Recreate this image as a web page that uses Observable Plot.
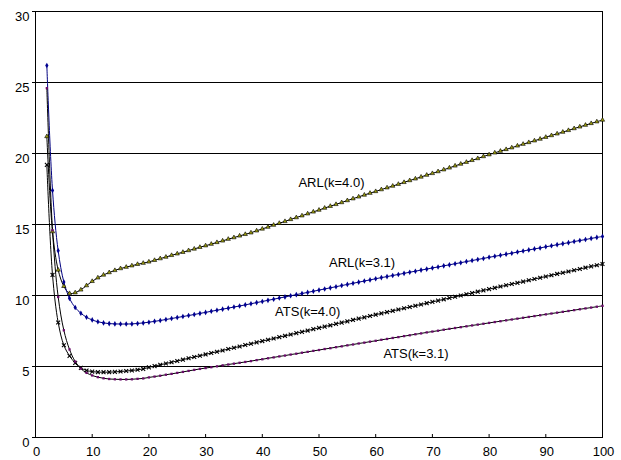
<!DOCTYPE html>
<html><head><meta charset="utf-8">
<script src="https://cdn.jsdelivr.net/npm/d3@7"></script>
<script src="https://cdn.jsdelivr.net/npm/@observablehq/plot@0.6"></script>
<style>body{margin:0;background:#fff;}#chart{width:621px;height:460px;}</style>
</head><body><div id="chart"></div>
<script>
// x values: 2..100
const xValues = d3.range(2, 101);

const arl40 = [21.2,14.5,11.8,10.65,10.15,10.2,10.4,10.7,11.0,11.25,11.45,11.62,11.77,11.9,12.0,12.1,12.2,12.28,12.37,
12.48,12.60,12.71,12.83,12.94,13.05,13.17,13.28,13.40,13.51,13.62,13.74,13.85,13.97,14.08,14.20,14.31,14.42,
14.56,14.69,14.82,14.96,15.09,15.22,15.36,15.49,15.62,15.76,15.89,16.02,16.16,16.29,16.42,16.55,16.69,16.82,16.95,17.08,17.21,
17.33,17.46,17.59,17.71,17.84,17.97,18.10,18.22,18.35,18.48,18.60,18.73,
18.86,18.99,19.13,19.26,19.39,19.52,19.65,19.79,19.92,20.05,
20.17,20.29,20.41,20.54,20.66,20.78,20.90,21.02,21.15,21.27,21.39,21.51,21.63,21.76,21.88,22.00,22.12,22.24,22.36];

const arl31 = [26.2,17.4,13.15,10.95,9.8,9.15,8.75,8.47,8.28,8.15,8.07,8.02,8.0,7.99,7.99,8.0,8.03,8.07,8.12,
8.18,8.24,8.31,8.38,8.45,8.52,8.59,8.66,8.74,8.81,8.89,8.96,9.04,9.11,9.19,9.26,9.34,9.42,9.50,9.58,9.66,9.74,9.82,9.90,9.98,
10.06,10.14,10.22,10.30,10.38,10.46,10.54,10.62,10.70,10.78,10.86,10.94,11.02,11.10,11.18,11.26,11.33,11.41,11.48,11.56,11.64,
11.71,11.79,11.86,11.94,12.01,12.09,12.16,12.24,12.31,12.39,12.46,12.54,12.61,12.69,12.76,12.83,12.91,12.98,13.06,13.13,13.21,
13.28,13.35,13.43,13.50,13.58,13.65,13.72,13.80,13.87,13.94,14.02,14.09,14.16];

const ats40 = [19.2,11.45,8.1,6.5,5.75,5.25,4.9,4.72,4.64,4.6,4.6,4.6,4.62,4.65,4.68,4.72,4.77,4.83,4.94,
5.03,5.12,5.21,5.30,5.39,5.48,5.58,5.67,5.76,5.85,5.95,6.04,6.13,6.23,6.32,6.41,6.51,6.60,6.70,6.79,6.88,6.97,7.07,7.16,7.25,
7.35,7.44,7.53,7.63,7.72,7.81,7.90,8.00,8.09,8.18,8.28,8.37,8.46,8.56,8.65,8.74,8.83,8.92,9.01,9.10,9.19,9.28,9.37,9.46,9.55,
9.64,9.73,9.82,9.91,10.00,10.09,10.18,10.27,10.36,10.45,10.54,10.63,10.72,10.81,10.89,10.98,11.07,11.16,11.25,11.34,11.43,
11.52,11.60,11.69,11.78,11.87,11.96,12.05,12.13,12.22];

const ats31 = [24.6,14.6,9.9,7.55,6.2,5.35,4.85,4.55,4.37,4.25,4.17,4.12,4.1,4.09,4.09,4.1,4.13,4.16,4.23,
4.29,4.35,4.42,4.48,4.55,4.62,4.69,4.76,4.83,4.89,4.95,5.01,5.08,5.14,5.20,5.26,5.32,5.38,5.45,5.51,5.58,5.64,5.71,5.77,5.84,
5.90,5.97,6.03,6.10,6.16,6.23,6.29,6.36,6.42,6.49,6.55,6.62,6.68,6.75,6.81,6.88,6.94,7.01,7.07,7.14,7.20,7.27,7.33,7.40,7.46,
7.52,7.59,7.65,7.71,7.77,7.83,7.89,7.95,8.01,8.07,8.13,8.19,8.25,8.31,8.37,8.43,8.49,8.55,8.61,8.67,8.73,8.79,8.85,8.91,8.97,
9.03,9.09,9.15,9.21,9.27];

const seriesNames = ["ARL(k=4.0)", "ARL(k=3.1)", "ATS(k=4.0)", "ATS(k=3.1)"];
const seriesValues = [arl40, arl31, ats40, ats31];

const xTicks = [0,10,20,30,40,50,60,70,80,90,100];
const yTicks = [0,5,10,15,20,25,30];
const gridTicks = [5,10,15,20,25];

// label anchors in data units
const labelNames = ["ARL(k=4.0)", "ARL(k=3.1)", "ATS(k=4.0)", "ATS(k=3.1)"];
const labelX = [52.2, 57.6, 48.0, 67.1];
const labelY = [17.94, 12.3, 8.87, 5.91];

const styles = {
  "ARL(k=4.0)": {line: "#000", symbol: "triangle", fill: "#9a9a10", stroke: "#000", r: 1.6, sw: 0.6},
  "ARL(k=3.1)": {line: "#000080", symbol: "diamond", fill: "#000090", stroke: "none", r: 1.7, sw: 0},
  "ATS(k=4.0)": {line: "#000", symbol: "times", fill: "none", stroke: "#000", r: 1.9, sw: 1.1},
  "ATS(k=3.1)": {line: "#000", symbol: "square", fill: "#6a0a6a", stroke: "none", r: 1.3, sw: 0}
};

const rows = [];
seriesNames.forEach((s, i) => {
  seriesValues[i].forEach((v, j) => rows.push({x: xValues[j], y: v, s}));
});
const labels = labelNames.map((t, i) => ({t, x: labelX[i], y: labelY[i]}));

const font = "'Liberation Sans', Arial, Helvetica, sans-serif";
const marks = [
  Plot.ruleY(gridTicks, {y: d => d, stroke: "#000", strokeWidth: 1}),
  Plot.frame({stroke: "#000", strokeWidth: 1}),
  Plot.ruleX(xTicks, {x: d => d, stroke: "#000", insetTop: 423}),
  Plot.axisY({ticks: yTicks, tickSize: 3, tickFormat: () => "", label: null}),
  Plot.axisY({ticks: yTicks, tickSize: 0, tickPadding: 6, dy: 5, label: null, fontSize: 13}),
  Plot.axisX({ticks: xTicks, tickSize: 0, tickPadding: 9, dx: 1, label: null, fontSize: 13})
];
seriesNames.forEach(s => {
  const st = styles[s];
  marks.push(Plot.line(rows.filter(r => r.s === s), {x: "x", y: "y", stroke: st.line, strokeWidth: 1, curve: "catmull-rom"}));
});
seriesNames.forEach(s => {
  const st = styles[s];
  marks.push(Plot.dot(rows.filter(r => r.s === s), {x: "x", y: "y", symbol: st.symbol, fill: st.fill, stroke: st.stroke, strokeWidth: st.sw, r: st.r}));
});
marks.push(Plot.text(labels, {x: "x", y: "y", text: "t", fontSize: 13, fill: "#000"}));

const chart = Plot.plot({
  width: 621, height: 460,
  marginLeft: 35, marginRight: 19, marginTop: 11, marginBottom: 23,
  x: {domain: [0, 100]},
  y: {domain: [0, 30]},
  style: {fontFamily: font, fontSize: "13px", color: "#000", background: "#fff"},
  marks
});
document.getElementById("chart").appendChild(chart);
</script>
</body></html>
